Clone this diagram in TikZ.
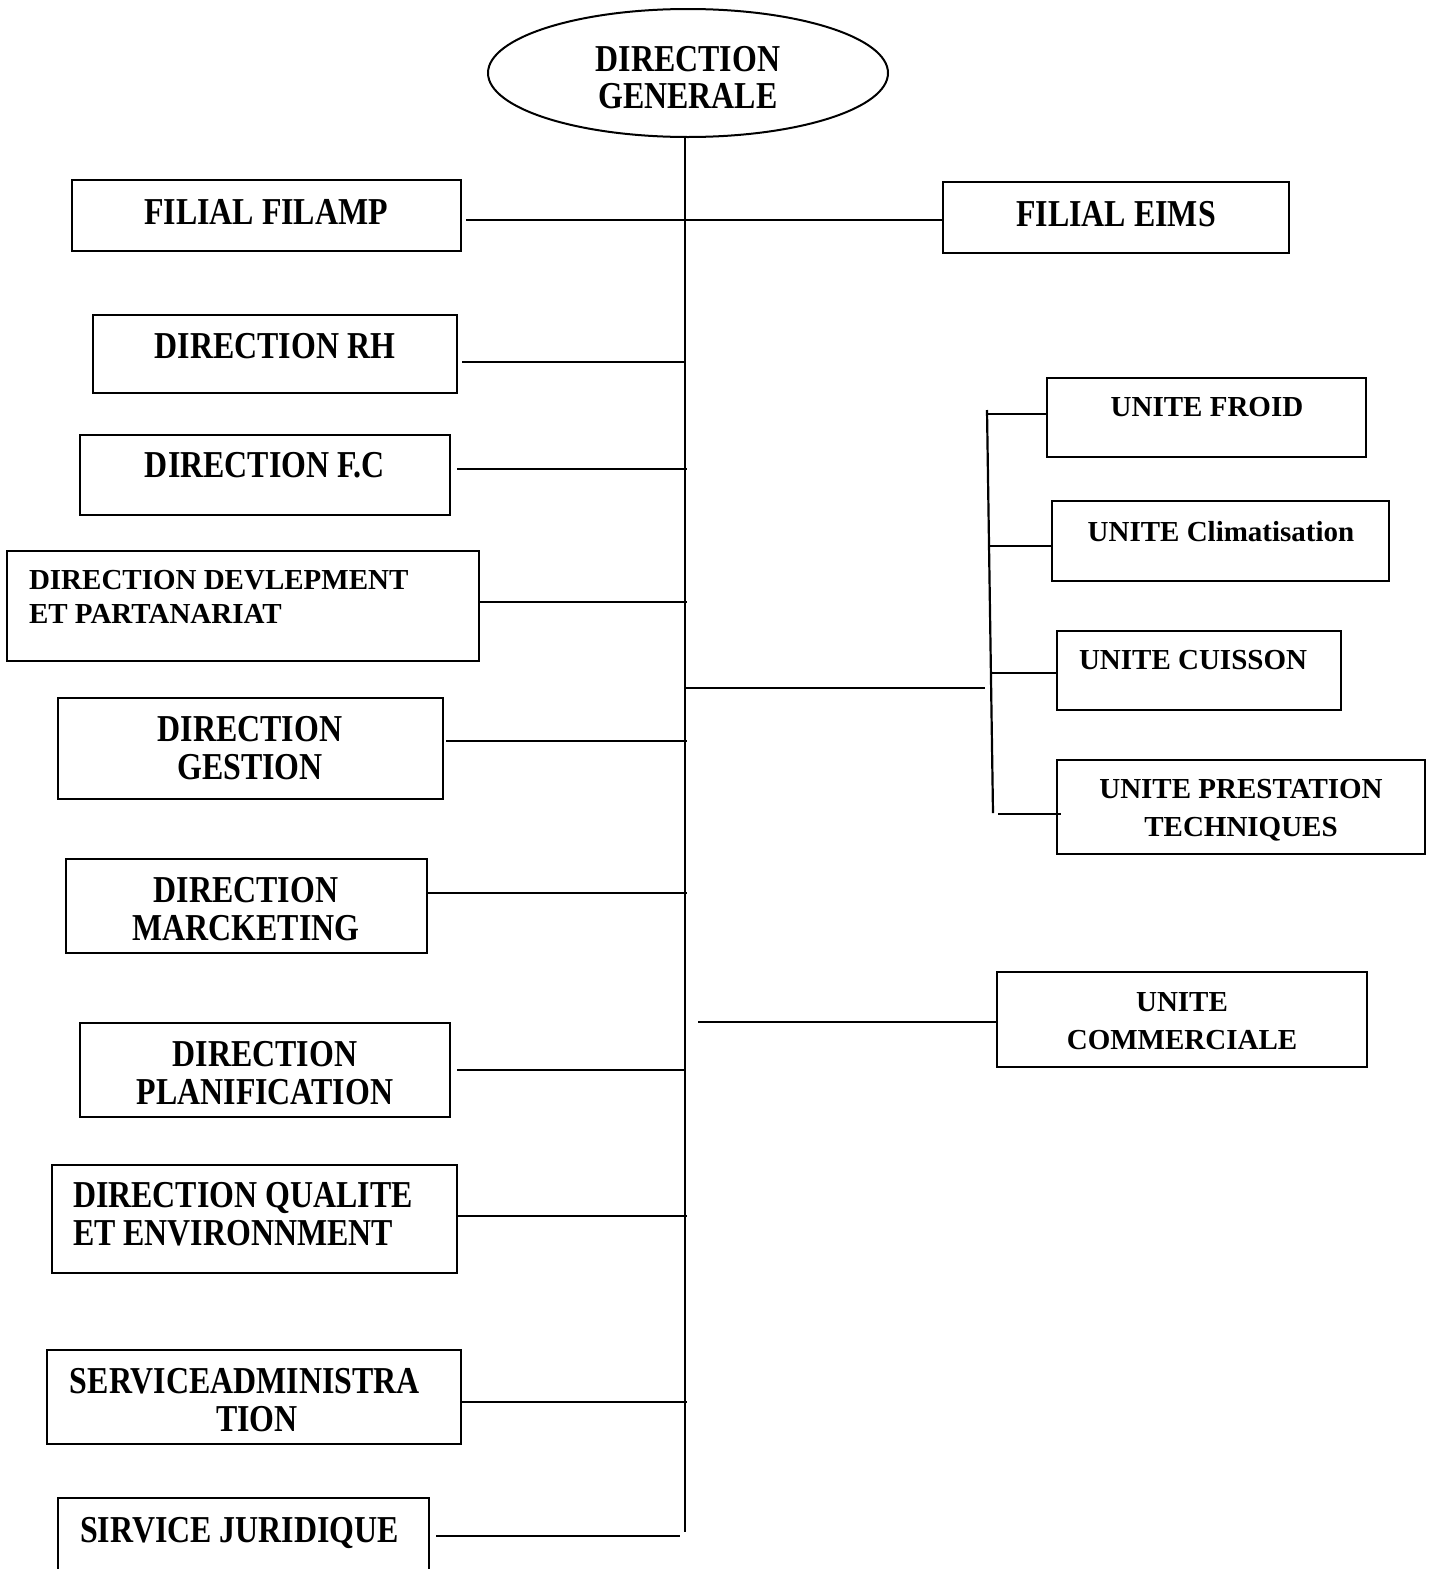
\documentclass[tikz,border=0pt]{standalone}
\usepackage{fontspec}
\setmainfont{Liberation Serif}[FakeStretch=0.84]
\newfontfamily\unitfont{Liberation Serif}
\usetikzlibrary{shapes.geometric}
% box given by its corners (x1,y1) and (x2,y2)
\newcommand\orgbox[5]{%
  \node[box, minimum width={(#4-#2)*0.5pt}, minimum height={(#5-#3)*0.5pt}]
    (#1) at ({(#2+#4)/2},{(#3+#5)/2}) {};}
\begin{document}
\begin{tikzpicture}[x=0.5pt,y=-0.5pt,line width=1pt,
  box/.style={draw,rectangle,inner sep=0pt},
  lbl/.style={inner sep=0pt,font=\fontsize{19}{19}\selectfont\bfseries,align=center,anchor=north},
  lbll/.style={lbl,align=left,anchor=north west},
  small/.style={font=\unitfont\fontsize{14.5}{19}\selectfont\bfseries},
  link/.style={line width=1.1pt}]
\useasboundingbox (0,0) rectangle (1433,1569);
\clip (0,0) rectangle (1433,1569);

% head
\node[draw,ellipse,inner sep=0pt,minimum width=200pt,minimum height=64pt]
  (dg) at (688,73) {};
\node[lbl,font=\fontsize{19}{18.5}\selectfont\bfseries] (dgT) at (688,45) {DIRECTION\\GENERALE};

% left column
\orgbox{filamp}{72}{180}{461}{251}
\node[lbl] (filampT) at (266,198) {FILIAL FILAMP};
\orgbox{rh}{93}{315}{457}{393}
\node[lbl] (rhT) at (275,332) {DIRECTION RH};
\orgbox{fc}{80}{435}{450}{515}
\node[lbl] (fcT) at (265,451) {DIRECTION F.C};
\orgbox{dev}{7}{551}{479}{661}
\node[lbll,small,font=\unitfont\fontsize{14.5}{17}\selectfont\bfseries] (devT) at (28,569)
  {DIRECTION DEVLEPMENT\\ET PARTANARIAT};
\orgbox{ges}{58}{698}{443}{799}
\node[lbl] (gesT) at (250,715) {DIRECTION\\GESTION};
\orgbox{mkt}{66}{859}{427}{953}
\node[lbl] (mktT) at (246,876) {DIRECTION\\MARCKETING};
\orgbox{pla}{80}{1023}{450}{1117}
\node[lbl] (plaT) at (265,1040) {DIRECTION\\PLANIFICATION};
\orgbox{qua}{52}{1165}{457}{1273}
\node[lbll] (quaT) at (72,1181) {DIRECTION QUALITE\\ET ENVIRONNMENT};
\orgbox{adm}{47}{1350}{461}{1444}
\node[lbl] (admT) at (245,1367) {SERVICEADMINISTRA\\\hspace*{12pt}TION};
\orgbox{jur}{58}{1498}{429}{1600}
\node[lbll] (jurT) at (79,1516) {SIRVICE JURIDIQUE};

% right column
\orgbox{eims}{943}{182}{1289}{253}
\node[lbl] (eimsT) at (1116,200) {FILIAL EIMS};
\orgbox{froid}{1047}{378}{1366}{457}
\node[lbl,small] (froidT) at (1207,396) {UNITE FROID};
\orgbox{clim}{1052}{501}{1389}{581}
\node[lbl,small] (climT) at (1221,520) {UNITE Climatisation};
\orgbox{cuis}{1057}{631}{1341}{710}
\node[lbll,small] (cuisT) at (1078,649) {UNITE CUISSON};
\orgbox{prest}{1057}{760}{1425}{854}
\node[lbl,small] (prestT) at (1241,778) {UNITE PRESTATION\\TECHNIQUES};
\orgbox{com}{997}{972}{1367}{1067}
\node[lbl,small] (comT) at (1182,991) {UNITE\\COMMERCIALE};

% main trunk
\coordinate (trunkTop) at (685,137);
\coordinate (trunkEnd) at (685,1532);
\draw[link] (trunkTop) -- (trunkEnd);

% trunk junctions
\coordinate (tFil) at (685,220);
\coordinate (tRh) at (685,362);
\coordinate (tFc) at (687,469);
\coordinate (tDev) at (687,602);
\coordinate (tUnits) at (685,688);
\coordinate (tGes) at (687,741);
\coordinate (tMkt) at (687,893);
\coordinate (tCom) at (698,1022);
\coordinate (tPla) at (685,1070);
\coordinate (tQua) at (687,1216);
\coordinate (tAdm) at (687,1402);
\coordinate (tJur) at (680,1536);

\draw[link] ([xshift=2pt]filamp.east |- tFil) -- (eims.west |- tFil);
\draw[link] ([xshift=2pt]rh.east |- tRh) -- (tRh);
\draw[link] ([xshift=3pt]fc.east |- tFc) -- (tFc);
\draw[link] (dev.east |- tDev) -- (tDev);
\draw[link] ([xshift=1pt]ges.east |- tGes) -- (tGes);
\draw[link] (mkt.east |- tMkt) -- (tMkt);
\draw[link] ([xshift=3pt]pla.east |- tPla) -- (tPla);
\draw[link] (qua.east |- tQua) -- (tQua);
\draw[link] (adm.east |- tAdm) -- (tAdm);
\draw[link] ([xshift=3pt]jur.east |- tJur) -- (tJur);
\draw[link] (tCom) -- (com.west |- tCom);

% branch to the production units
\coordinate (bTop) at (987,410);
\coordinate (bBot) at (993,813);
\coordinate (bIn) at (985,688);
\draw[link] (tUnits) -- (bIn);
\draw[link] (bTop) -- (bBot);
\coordinate (bFroid) at (987,414);
\coordinate (bClim) at (989,546);
\coordinate (bCuis) at (991,673);
\coordinate (bPrest) at (998,814);
\draw[link] (bFroid) -- ([xshift=1pt]froid.west |- bFroid);
\draw[link] (bClim) -- (clim.west |- bClim);
\draw[link] (bCuis) -- (cuis.west |- bCuis);
\draw[link] (bPrest) -- ([xshift=2.5pt]prest.west |- bPrest);
\end{tikzpicture}
\end{document}
